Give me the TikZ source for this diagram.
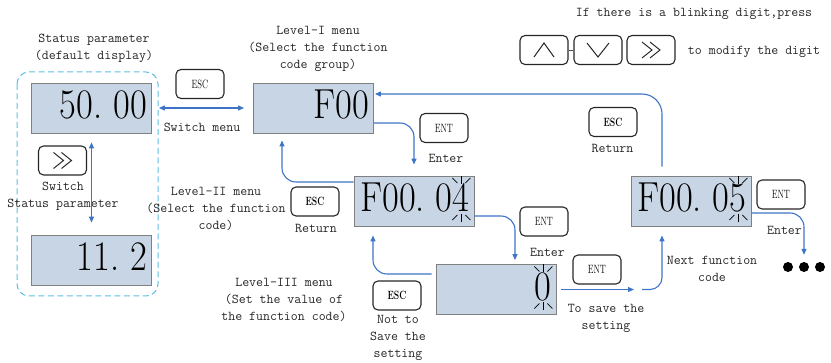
\documentclass[tikz,border=0pt]{standalone}
\usepackage{fontspec}
\usepackage{graphicx}
\usepackage{tikz}
\usetikzlibrary{arrows.meta}
\definecolor{lcdblue}{RGB}{200,213,228}
\definecolor{flowblue}{RGB}{62,116,200}
\definecolor{dashcyan}{RGB}{96,190,228}
\newcommand{\lcdtext}[1]{\scalebox{0.87}[1]{#1}}
\newcommand{\keytext}[1]{\scalebox{0.72}[1]{#1}}
\newcommand{\gapdot}{.\hspace{0.3em}}
\newcommand{\blinkmark}{\draw[blinkline] (0,-23) -- (0,-15);
					\draw[blinkline] (-9,-21) -- (-4,-16);
					\draw[blinkline] (9,-21) -- (4,-16);
					\draw[blinkline] (0,15) -- (0,23);
					\draw[blinkline] (-9,21) -- (-4,16);
					\draw[blinkline] (9,21) -- (4,16);}
\newcommand{\dblright}{\draw[chev] (-9,-8) -- (1,0) -- (-9,8);
					\draw[chev] (-1,-8) -- (9,0) -- (-1,8);}
\tikzset{
	lcd/.style={draw=gray, fill=lcdblue, line width=0.8pt, minimum height=50pt,
		text width=111pt, inner xsep=4.5pt, inner ysep=0pt, align=right,
		text height=27pt, text depth=5pt, font=\fontsize{42}{42}\selectfont},
	key/.style={draw=black!85, line width=1.1pt, rounded corners=5pt,
		minimum width=48pt, minimum height=29pt, inner sep=0pt,
		font=\fontsize{12}{12}\selectfont},
	lbl/.style={font=\fontsize{13.5}{17}\ttfamily\selectfont, align=center,
		text=black!85, inner sep=0pt},
	flow/.style={draw=flowblue, line width=1.1pt, rounded corners=14pt},
	blinkline/.style={line width=0.8pt, black},
	chev/.style={line width=1pt, black!85},
	statbox/.style={draw=dashcyan, line width=1pt, dash pattern=on 6pt off 3.5pt,
		rounded corners=12pt}
}

\begin{document}
\begin{tikzpicture}[x=1pt, y=-1pt, >={Triangle[length=6pt,width=5pt]}]
	\useasboundingbox (0,0) rectangle (831,363);

	\draw[statbox] (17,72) rectangle (158,296);

	\node[lcd] (stat1) at (91.5,108) {\lcdtext{50\gapdot00}};
	\node[lcd] (stat2) at (91.5,260) {\lcdtext{11\gapdot2}};
	\node[lcd] (lvlone) at (313.5,108) {\lcdtext{F00}};
	\node[lcd] (lvltwo) at (414,201) {\lcdtext{F00\gapdot04}};
	\node[lcd] (lvlthree) at (496,289.5) {\lcdtext{0}};
	\node[lcd] (nextcode) at (691,201) {\lcdtext{F00\gapdot05}};

	\begin{scope}[shift={(lvltwo.east)}, xshift=-13pt, yshift=2pt]
		\blinkmark
	\end{scope}
	\begin{scope}[shift={(lvlthree.east)}, xshift=-13pt, yshift=2pt]
		\blinkmark
	\end{scope}
	\begin{scope}[shift={(nextcode.east)}, xshift=-13pt, yshift=2pt]
		\blinkmark
	\end{scope}

	\node[key] (escsw) at (200,84) {\keytext{ESC}};
	\node[key] (entone) at (444,128) {\keytext{ENT}};
	\node[key] (escret1) at (613,122) {\keytext{\bfseries ESC}};
	\node[key] (escret2) at (315,201.5) {\keytext{\bfseries ESC}};
	\node[key] (enttwo) at (544,221.5) {\keytext{ENT}};
	\node[key] (escnot) at (397,295.5) {\keytext{\bfseries ESC}};
	\node[key] (entsave) at (597,269.5) {\keytext{ENT}};
	\node[key] (entnext) at (781,194.5) {\keytext{ENT}};
	\node[key] (shiftkey) at (62.5,160.5) {};
	\node[key] (upkey) at (544,50) {};
	\node[key] (downkey) at (598,50) {};
	\node[key] (rightkey) at (651,50) {};

	\begin{scope}[shift={(shiftkey.center)}]
		\dblright
	\end{scope}
	\begin{scope}[shift={(rightkey.center)}]
		\dblright
	\end{scope}
	\begin{scope}[shift={(upkey.center)}]
		\draw[chev] (-10,7) -- (0,-7) -- (10,7);
	\end{scope}
	\begin{scope}[shift={(downkey.center)}]
		\draw[chev] (-11,-7) -- (0,7) -- (11,-7);
	\end{scope}
	\draw[line width=0.8pt, black!70] (upkey) -- (downkey);

	\node[minimum width=44pt, minimum height=10pt, inner sep=0pt] (more) at (804,267) {};
	\foreach \dx in {-16,0,16}
		\fill ([xshift=\dx pt]more.center) circle (5);

	\node[lbl] (statlabel) at (94,48.5) {Status parameter\\(default display)};
	\node[lbl] (onelabel) at (318,48.5) {Level-I menu\\(Select the function\\code group)};
	\node[lbl] (switchmenu) at (202,127) {Switch menu};
	\node[lbl] (enterone) at (446,158.5) {Enter};
	\node[lbl] (returnone) at (612.5,148) {Return};
	\node[lbl] (switchstat) at (63,196) {Switch\\Status parameter};
	\node[lbl] (twolabel) at (216,208.5) {Level-II menu\\(Select the function\\code)};
	\node[lbl] (returntwo) at (316,228) {Return};
	\node[lbl] (threelabel) at (284,300) {Level-III menu\\(Set the value of\\the function code)};
	\node[lbl] (nottosave) at (398,337.5) {Not to\\Save the\\setting};
	\node[lbl] (entertwo) at (547.5,252) {Enter};
	\node[lbl] (tosave) at (606,318) {To save the\\setting};
	\node[lbl] (nextlabel) at (712,268.5) {Next function\\code};
	\node[lbl] (enternext) at (784.5,230) {Enter};
	\node[lbl] (blinknote) at (694,14) {If there is a blinking digit,press};
	\node[lbl] (modify) at (754,52) {to modify the digit};

	\coordinate (savetip) at (634,289.5);
	\coordinate (saveturn) at (642,289.5);

	\draw[flow, <->, shorten <=7pt, shorten >=9pt] (stat1.east) -- (lvlone.west);
	\draw[flow, <->, shorten <=9pt, shorten >=12pt] (stat1.south) -- (stat2.north);
	\draw[flow, ->, shorten >=11pt] ([yshift=-15pt]lvlone.east) -| (lvltwo.north);
	\draw[flow, ->, shorten >=7pt] ([yshift=19pt]lvltwo.west) -| ([xshift=-31.5pt]lvlone.south);
	\draw[flow, ->, shorten >=4pt] ([yshift=-15pt]lvltwo.east) -| ([xshift=19pt]lvlthree.north);
	\draw[flow, ->, shorten <=4pt, shorten >=9pt] ([yshift=15.5pt]lvlthree.west) -| ([xshift=-41pt]lvltwo.south);
	\draw[flow, ->, shorten <=5pt] (lvlthree.east) -- (savetip);
	\draw[flow, ->, rounded corners=12pt, shorten >=9pt] (saveturn) -| ([xshift=-29pt]nextcode.south);
	\draw[flow, ->, rounded corners=20pt, shorten <=9pt, shorten >=1pt] ([xshift=-29pt]nextcode.north) |- ([yshift=14pt]lvlone.east);
	\draw[flow, ->, shorten >=7pt] ([yshift=-12pt]nextcode.east) -| (more.north);

\end{tikzpicture}
\end{document}
